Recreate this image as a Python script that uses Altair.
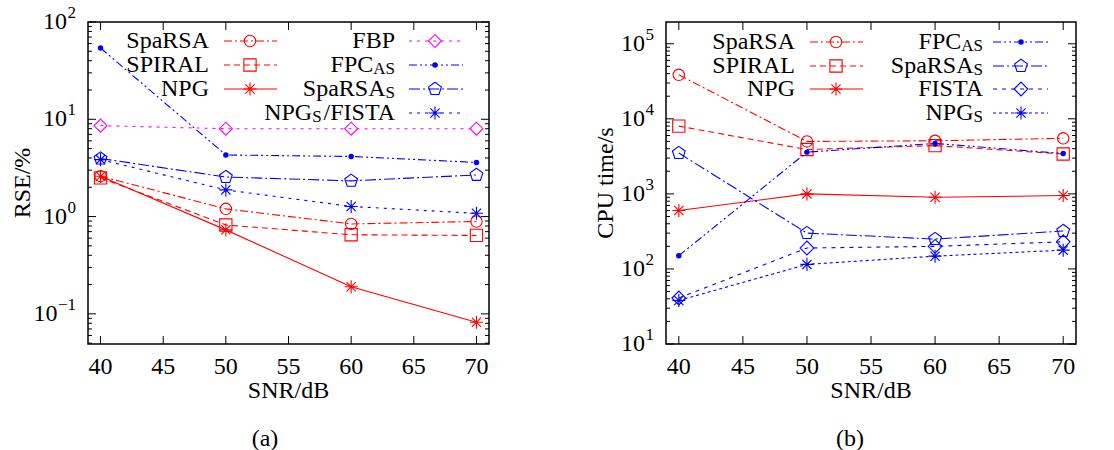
import altair as alt
import pandas as pd

# ---------------- data ----------------
snr = [40, 50, 60, 70]

# (a) RSE / %
rse_sparsa = [2.6, 1.2, 0.84, 0.89]
rse_spiral = [2.5, 0.82, 0.65, 0.64]
rse_npg = [2.6, 0.73, 0.19, 0.082]
rse_fbp = [8.6, 8.0, 8.0, 8.0]
rse_fpcas = [54, 4.3, 4.15, 3.6]
rse_sparsas = [3.95, 2.55, 2.33, 2.68]
rse_npgs_fista = [3.85, 1.88, 1.27, 1.08]

# (b) CPU time / s
cpu_sparsa = [38600, 5000, 5100, 5500]
cpu_spiral = [8000, 3900, 4400, 3400]
cpu_npg = [600, 1000, 900, 950]
cpu_fpcas = [150, 3600, 4700, 3450]
cpu_sparsas = [3500, 300, 250, 320]
cpu_fista = [41, 190, 200, 230]
cpu_npgs = [38, 115, 148, 178]

x_ticks = [40, 45, 50, 55, 60, 65, 70]
rse_major = [0.1, 1, 10, 100]
rse_exp = ["\u22121", "0", "1", "2"]
cpu_major = [10, 100, 1000, 10000, 100000]
cpu_exp = ["1", "2", "3", "4", "5"]

# ---------------- styles ----------------
F = "Liberation Serif"
RED, BLUE, MAG = "#ff0000", "#0000ff", "#ff00ff"
ASTER = "M-1,0L1,0M0,-1L0,1M-0.7071,-0.7071L0.7071,0.7071M-0.7071,0.7071L0.7071,-0.7071"
PENTA = "M0,-1L0.951,-0.309L0.588,0.809L-0.588,0.809L-0.951,-0.309Z"

STY = {
    "SpaRSA": dict(color=RED, dash=[8, 3, 2, 3], shape="circle", filled=False, size=130),
    "SPIRAL": dict(color=RED, dash=[6, 4], shape="square", filled=False, size=150),
    "NPG": dict(color=RED, dash=None, shape=ASTER, filled=False, size=170),
    "FBP": dict(color=MAG, dash=[3, 5], shape="diamond", filled=False, size=170),
    "FPCAS": dict(color=BLUE, dash=[8, 3, 2, 3, 2, 3], shape="circle", filled=True, size=30),
    "SpaRSAS": dict(color=BLUE, dash=[11, 3, 2, 3], shape=PENTA, filled=False, size=180),
    "NPGSFISTA": dict(color=BLUE, dash=[3, 5], shape=ASTER, filled=False, size=170),
    "FISTA": dict(color=BLUE, dash=[4, 5], shape="diamond", filled=False, size=190),
    "NPGS": dict(color=BLUE, dash=[3, 3], shape=ASTER, filled=False, size=170),
}
LABELS = {
    "SpaRSA": [("SpaRSA", 0)],
    "SPIRAL": [("SPIRAL", 0)],
    "NPG": [("NPG", 0)],
    "FBP": [("FBP", 0)],
    "FPCAS": [("FPC", 0), ("AS", 1)],
    "SpaRSAS": [("SpaRSA", 0), ("S", 1)],
    "NPGSFISTA": [("NPG", 0), ("S", 1), ("/FISTA", 0)],
    "FISTA": [("FISTA", 0)],
    "NPGS": [("NPG", 0), ("S", 1)],
}

TW = dict(zip("ABCDEFGHIJKLMNOPQRSTUVWXYZ",
              [722, 667, 667, 722, 611, 556, 722, 722, 333, 389, 722, 611, 889,
               722, 722, 556, 722, 667, 556, 611, 722, 722, 944, 722, 722, 611]))
TW.update(dict(zip("abcdefghijklmnopqrstuvwxyz",
                   [444, 500, 444, 500, 444, 333, 500, 500, 278, 278, 500, 278, 778,
                    500, 500, 500, 500, 333, 389, 278, 500, 500, 722, 500, 500, 444])))
TW.update({"/": 278, " ": 250, "\u2212": 564})
for d in "0123456789":
    TW[d] = 500


def tw(s, size):
    return sum(TW.get(c, 500) for c in s) / 1000.0 * size


FS, FSS = 24, 17
one = pd.DataFrame({"k": [0]})


def minor_ticks(lo, hi):
    out = []
    k = -3
    while 10 ** k <= hi:
        for m in range(2, 10):
            v = m * 10 ** k
            if lo <= v <= hi:
                out.append(v)
        k += 1
    return out


def panel(series, ydom, ymajor, yexp, ytitle, ytitle_x, caption, caption_x,
          legend_cols, W, H):
    xs = alt.Scale(domain=[39, 71], nice=False, zero=False)
    ys = alt.Scale(type="log", domain=ydom, nice=False)
    L = []
    # data lines + markers
    for key, vals in series:
        st = STY[key]
        df = pd.DataFrame({"snr": snr, "v": vals})
        kw = dict(color=st["color"], strokeWidth=1.1)
        if st["dash"]:
            kw["strokeDash"] = st["dash"]
        enc = dict(x=alt.X("snr:Q", scale=xs, axis=None),
                   y=alt.Y("v:Q", scale=ys, axis=None))
        L.append(alt.Chart(df).mark_line(**kw).encode(**enc))
        L.append(alt.Chart(df).mark_point(shape=st["shape"], filled=st["filled"],
                                          size=st["size"], color=st["color"],
                                          strokeWidth=1.1, opacity=1).encode(**enc))
    # inward ticks
    ymaj = pd.DataFrame({"v": [v for v in ymajor if ydom[0] <= v <= ydom[1]]})
    ymin = pd.DataFrame({"v": minor_ticks(ydom[0], ydom[1])})
    for d, ln in [(ymaj, 8), (ymin, 4)]:
        ey = alt.Y("v:Q", scale=ys, axis=None)
        L.append(alt.Chart(d).mark_rule(color="black", strokeWidth=1).encode(
            y=ey, x=alt.value(0), x2=alt.value(ln)))
        L.append(alt.Chart(d).mark_rule(color="black", strokeWidth=1).encode(
            y=ey, x=alt.value(W - ln), x2=alt.value(W)))
    xt = pd.DataFrame({"t": x_ticks})
    ex = alt.X("t:Q", scale=xs, axis=None)
    L.append(alt.Chart(xt).mark_rule(color="black", strokeWidth=1).encode(
        x=ex, y=alt.value(H), y2=alt.value(H - 8)))
    L.append(alt.Chart(xt).mark_rule(color="black", strokeWidth=1).encode(
        x=ex, y=alt.value(0), y2=alt.value(8)))
    # tick labels
    L.append(alt.Chart(xt).mark_text(font=F, fontSize=FS, baseline="middle",
                                     color="black").encode(
        x=ex, y=alt.value(H + 23), text="t:Q"))
    lab = pd.DataFrame({"v": ymajor, "e": yexp,
                        "ex": [-12 - tw(e, FSS) for e in yexp]})
    lab["bx"] = lab["ex"] - 0.5
    eyl = alt.Y("v:Q", scale=ys, axis=None)
    L.append(alt.Chart(lab).mark_text(font=F, fontSize=FS, align="right",
                                      baseline="middle", color="black").encode(
        y=eyl, x=alt.X("bx:Q", scale=None), text=alt.value("10")))
    L.append(alt.Chart(lab).mark_text(font=F, fontSize=FSS, align="left",
                                      baseline="middle", dy=-9, color="black").encode(
        y=eyl, x=alt.X("ex:Q", scale=None), text="e:N"))
    # axis titles and caption
    L.append(alt.Chart(one).mark_text(font=F, fontSize=FS, baseline="middle",
                                      color="black").encode(
        x=alt.value(W / 2), y=alt.value(H + 47), text=alt.value("SNR/dB")))
    L.append(alt.Chart(one).mark_text(font=F, fontSize=FS, baseline="middle",
                                      angle=270, color="black").encode(
        x=alt.value(ytitle_x), y=alt.value(H / 2), text=alt.value(ytitle)))
    L.append(alt.Chart(one).mark_text(font=F, fontSize=FS, baseline="middle",
                                      color="black").encode(
        x=alt.value(caption_x), y=alt.value(H + 95), text=alt.value(caption)))
    # legend
    for (keys, lx, l1, l2, lm, rows) in legend_cols:
        for key, ly in zip(keys, rows):
            st = STY[key]
            kw = dict(color=st["color"], strokeWidth=1.1)
            if st["dash"]:
                kw["strokeDash"] = st["dash"]
            L.append(alt.Chart(one).mark_rule(**kw).encode(
                x=alt.value(l1), x2=alt.value(l2), y=alt.value(ly)))
            L.append(alt.Chart(one).mark_point(shape=st["shape"], filled=st["filled"],
                                               size=st["size"], color=st["color"],
                                               strokeWidth=1.1, opacity=1).encode(
                x=alt.value(lm), y=alt.value(ly)))
            x = lx
            for txt, sub in reversed(LABELS[key]):
                fs = FSS if sub else FS
                L.append(alt.Chart(one).mark_text(font=F, fontSize=fs, align="right",
                                                  baseline="middle", dy=4 if sub else 0,
                                                  color="black").encode(
                    x=alt.value(x), y=alt.value(ly), text=alt.value(txt)))
                x -= tw(txt, fs)
    return alt.layer(*L).properties(width=W, height=H)


rows = [19, 43, 67, 91]
pa = panel(
    [("SpaRSA", rse_sparsa), ("SPIRAL", rse_spiral), ("NPG", rse_npg),
     ("FBP", rse_fbp), ("FPCAS", rse_fpcas), ("SpaRSAS", rse_sparsas),
     ("NPGSFISTA", rse_npgs_fista)],
    [0.049, 100], rse_major, rse_exp, "RSE/%", -65, "(a)", 177,
    [(["SpaRSA", "SPIRAL", "NPG"], 121, 136, 189, 162, rows),
     (["FBP", "FPCAS", "SpaRSAS", "NPGSFISTA"], 307, 321, 375, 347, rows)],
    401, 322)
pb = panel(
    [("SpaRSA", cpu_sparsa), ("SPIRAL", cpu_spiral), ("NPG", cpu_npg),
     ("FPCAS", cpu_fpcas), ("SpaRSAS", cpu_sparsas), ("FISTA", cpu_fista),
     ("NPGS", cpu_npgs)],
    [10, 195000], cpu_major, cpu_exp, "CPU time/s", -60, "(b)", 184,
    [(["SpaRSA", "SPIRAL", "NPG"], 129, 144, 197, 170, [20, 44, 67, 91]),
     (["FPCAS", "SpaRSAS", "FISTA", "NPGS"], 317, 327, 382, 355, [20, 44, 67, 91])],
    410, 322)

chart = alt.hconcat(pa, pb, spacing=102).properties(
    padding={"left": 10, "top": 3, "right": 0, "bottom": 0},
    background="white",
).configure_view(stroke="black", strokeWidth=1.5)

chart.save("out.html", embed_options={"renderer": "svg", "actions": False})
